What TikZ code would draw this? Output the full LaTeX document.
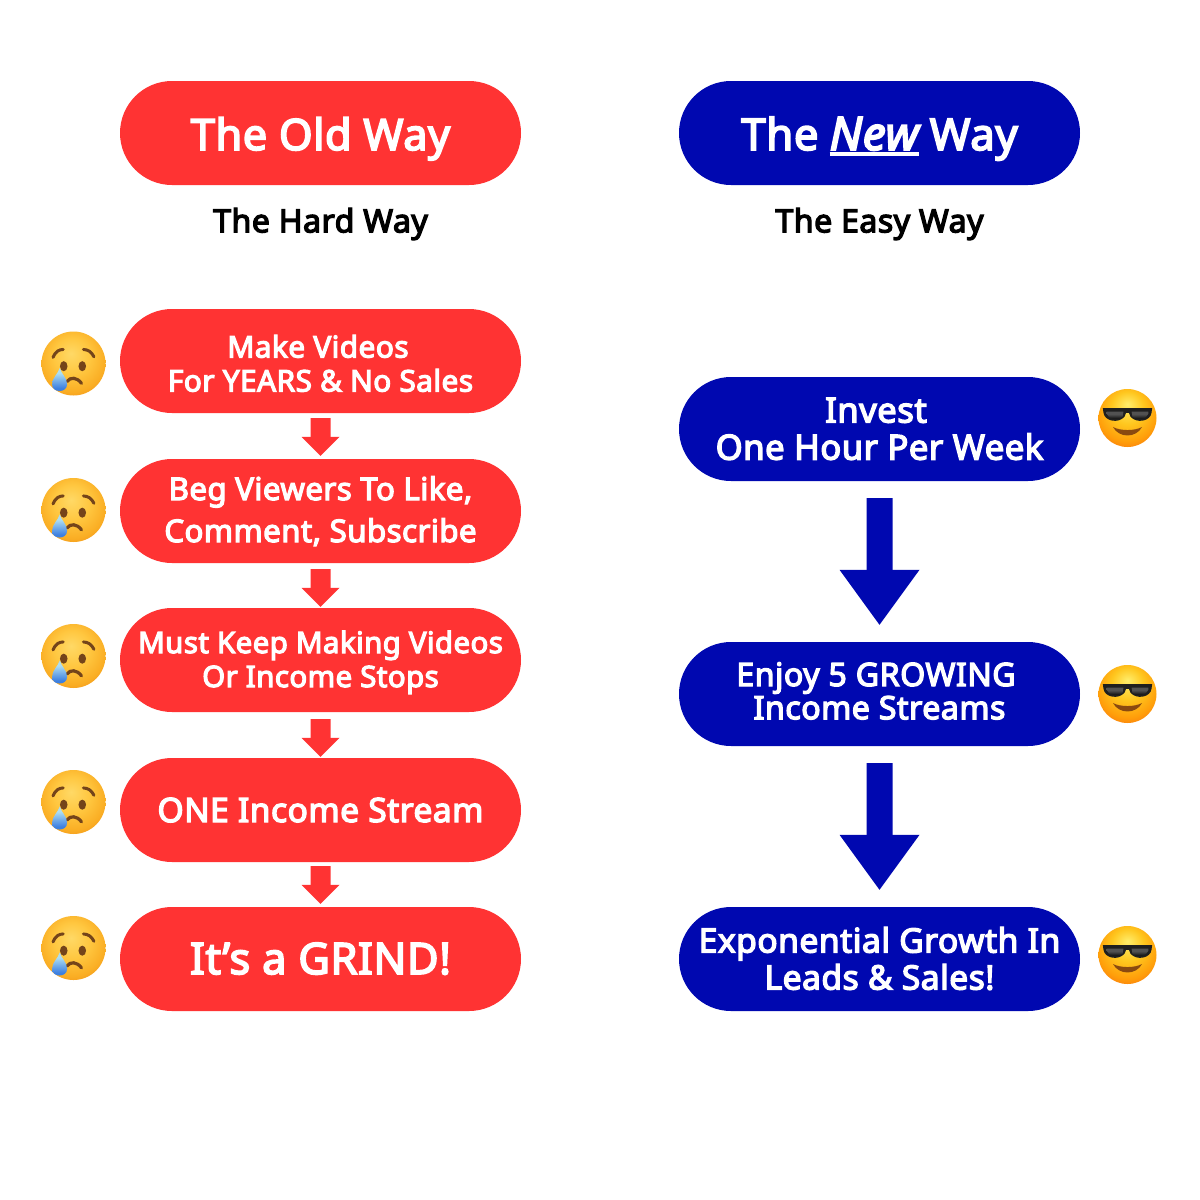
\documentclass[tikz,border=0pt]{standalone}
\usepackage{fontspec}
\setmainfont{Noto Sans}[BoldFont={Noto Sans},BoldFeatures={FakeBold=4,LetterSpace=1.5}]
\newfontfamily\newital{Noto Sans}[ItalicFeatures={FakeBold=4,LetterSpace=1.5}]
\usetikzlibrary{shapes.misc,arrows.meta}
\definecolor{oldred}{HTML}{FF3333}
\definecolor{newblue}{HTML}{0008B0}
\definecolor{sadbrown}{HTML}{74441A}
\definecolor{coolmouth}{HTML}{8A4A10}
\pgfdeclareradialshading{sadball}{\pgfpoint{-2bp}{8bp}}{rgb(0bp)=(1,.85,.40); rgb(14bp)=(1,.78,.25); rgb(26bp)=(.98,.68,.14); rgb(34bp)=(.94,.55,.09); rgb(50bp)=(.94,.55,.09)}
\pgfdeclareradialshading{coolball}{\pgfpoint{0bp}{12bp}}{rgb(0bp)=(1,.93,.42); rgb(14bp)=(1,.78,.12); rgb(26bp)=(1,.62,.04); rgb(35bp)=(.98,.44,.05); rgb(50bp)=(.97,.38,.05)}
\pgfdeclareverticalshading{tearfill}{100bp}{rgb(0bp)=(.24,.50,.88); rgb(35bp)=(.24,.50,.88); rgb(65bp)=(.68,.87,.95); rgb(100bp)=(.68,.87,.95)}
\pgfdeclareverticalshading{lensfill}{100bp}{rgb(0bp)=(.10,.10,.10); rgb(38bp)=(.10,.10,.10); rgb(60bp)=(.32,.32,.32); rgb(100bp)=(.32,.32,.32)}
\tikzset{
  x=1pt,y=-1pt,
  pill/.style={shape=rounded rectangle,minimum width=401pt,minimum height=104pt,inner sep=0pt,align=center,text=white},
  oldpill/.style={pill,fill=oldred},
  newpill/.style={pill,fill=newblue},
  subtitle/.style={font=\fontsize{32.1}{36}\selectfont\bfseries,text=black},
  oldarrow/.style={draw=oldred,line width=20pt,-{Triangle[length=19pt,width=38pt,line width=0pt]}},
  newarrow/.style={draw=newblue,line width=26pt,-{Triangle[length=55pt,width=80pt,line width=0pt]}},
  sadface/.pic={
    \shade[shading=sadball] (0,0) circle[radius=1];
    \fill[sadbrown] (-.305,-.084) ellipse[x radius=.118,y radius=.158];
    \fill[sadbrown] (.274,-.084) ellipse[x radius=.118,y radius=.158];
    \draw[sadbrown,line width=3pt,line cap=round] (-.64,.19) .. controls (-.55,.4) and (-.45,.43) .. (-.32,.44);
    \draw[sadbrown,line width=3pt,line cap=round] (.31,.44) .. controls (.45,.43) and (.55,.38) .. (.64,.21);
    \draw[sadbrown,line width=3.2pt,line cap=round] (-.2,-.56) .. controls (-.1,-.42) and (.1,-.42) .. (.25,-.62);
    \shade[shading=tearfill] (-.43,-.14) .. controls (-.38,-.32) and (-.2,-.45) .. (-.2,-.65) .. controls (-.2,-.93) and (-.67,-.93) .. (-.67,-.65) .. controls (-.67,-.45) and (-.48,-.32) .. (-.43,-.14) -- cycle;
  },
  coolface/.pic={
    \shade[shading=coolball] (0,0) circle[radius=1];
    \fill[black!88] (-.85,.34) -- (.85,.34) -- (.83,.19) .. controls (.8,-.12) and (.3,-.2) .. (.1,.05) -- (.05,.18) -- (-.05,.18) -- (-.1,.05) .. controls (-.3,-.2) and (-.8,-.12) .. (-.83,.19) -- cycle;
    \shade[shading=lensfill] (-.72,.22) -- (-.14,.22) -- (-.17,.04) .. controls (-.3,-.08) and (-.68,-.05) .. (-.72,.15) -- cycle;
    \shade[shading=lensfill] (.72,.22) -- (.14,.22) -- (.17,.04) .. controls (.3,-.08) and (.68,-.05) .. (.72,.15) -- cycle;
    \fill[coolmouth] (-.5,-.31) .. controls (-.25,-.45) and (.25,-.45) .. (.5,-.31) .. controls (.3,-.70) and (-.3,-.70) .. (-.5,-.31) -- cycle;
  },
}
% size, leading, centre-to-first-baseline offset, lines
\newcommand{\pilltext}[4]{\fontsize{#1}{#2}\selectfont\bfseries\raisebox{#3pt}[0pt][0pt]{\begin{tabular}[t]{@{}c@{}}#4\end{tabular}}}
\newcommand{\thickul}[1]{\setbox0=\hbox{#1}\rlap{\rule[-5.5pt]{\wd0}{3.6pt}}\box0}
\begin{document}
\begin{tikzpicture}
\useasboundingbox[fill=white] (0,0) rectangle (1200,1200);
% Left column
\node[oldpill] (ot) at (320.5,133) {\pilltext{43.1}{50}{-17}{The Old Way}};
\node[subtitle] (os) at (320.5,224) {The Hard Way};
\node[oldpill] (o1) at (320.5,361) {\pilltext{29.8}{34}{3.5}{Make Videos\hspace*{5pt}\\For YEARS \& No Sales}};
\node[oldpill] (o2) at (320.5,511) {\pilltext{31.2}{42}{11}{Beg Viewers To Like,\\Comment, Subscribe}};
\node[oldpill] (o3) at (320.5,660) {\pilltext{29.4}{34}{7}{Must Keep Making Videos\\Or Income Stops}};
\node[oldpill] (o4) at (320.5,810) {\pilltext{33.5}{40}{-12}{ONE Income Stream}};
\node[oldpill] (o5) at (320.5,959) {\pilltext{43.3}{50}{-15}{It’s a GRIND!}};
% Right column
\node[newpill] (nt) at (879.5,133) {\pilltext{43.7}{50}{-17}{The\hspace{-1pt} \thickul{\fontsize{46}{50}\selectfont\newital\mdseries\itshape New}\hspace{-1pt} Way}};
\node[subtitle] (ns) at (879.5,224) {The Easy Way};
\node[newpill] (n1) at (879.5,429) {\pilltext{34.6}{36}{6.5}{Invest\hspace*{7pt}\\One Hour Per Week}};
\node[newpill] (n2) at (879.5,694) {\pilltext{32.2}{33}{8}{Enjoy 5 GROWING\hspace*{7pt}\\Income Streams}};
\node[newpill] (n3) at (879.5,959) {\pilltext{33.6}{37}{6.5}{Exponential Growth In\\Leads \& Sales!}};
% Arrows
\draw[oldarrow,shorten <=5pt,shorten >=3pt] (o1) -- (o2);
\draw[oldarrow,shorten <=6pt,shorten >=1pt] (o2) -- (o3);
\draw[oldarrow,shorten <=7pt,shorten >=1pt] (o3) -- (o4);
\draw[oldarrow,shorten <=4pt,shorten >=3pt] (o4) -- (o5);
\draw[newarrow,shorten <=17pt,shorten >=17pt] (n1) -- (n2);
\draw[newarrow,shorten <=17pt,shorten >=17pt] (n2) -- (n3);
% Emoji
\foreach \n/\y in {1/363.5,2/510,3/656,4/802,5/948}{
  \coordinate (s\n) at (73.5,\y);
  \pic[x=32pt,y=32pt] at (s\n) {sadface};
}
\foreach \n/\y in {1/418,2/694,3/955}{
  \coordinate (c\n) at (1127.5,\y);
  \pic[x=29pt,y=29pt] at (c\n) {coolface};
}
\end{tikzpicture}
\end{document}
